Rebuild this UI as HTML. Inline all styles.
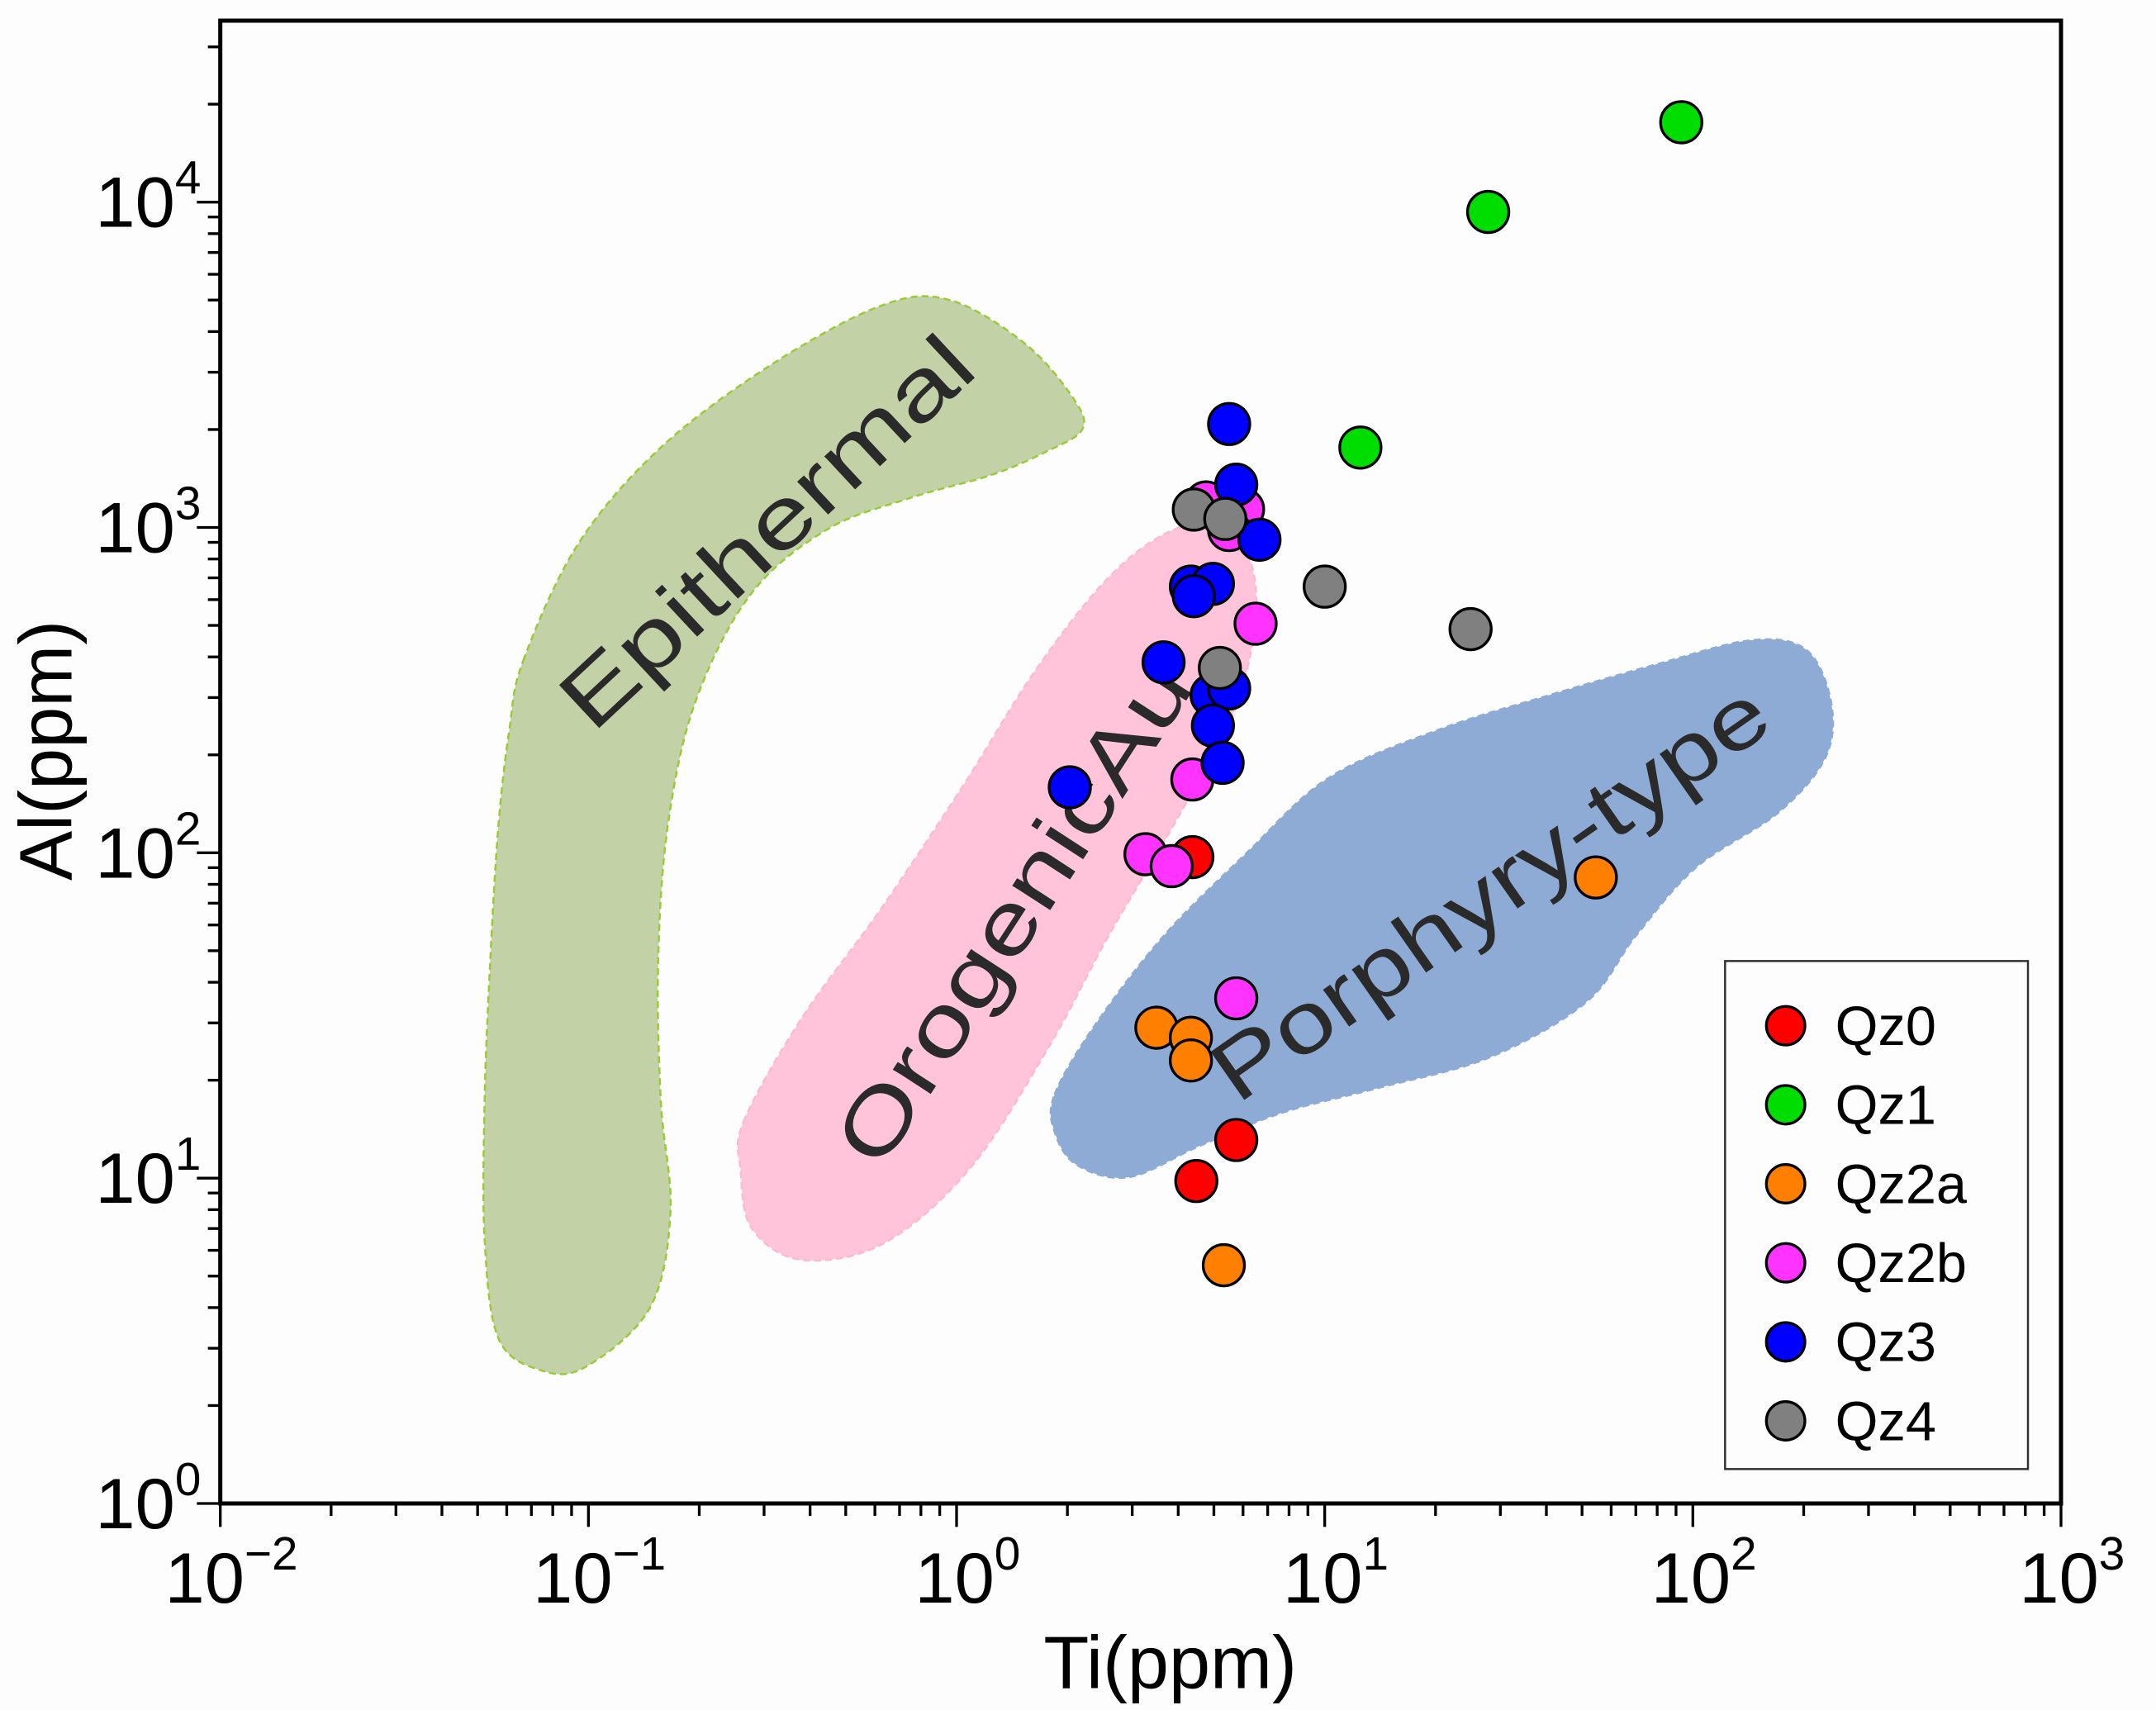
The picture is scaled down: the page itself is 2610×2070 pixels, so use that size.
<!DOCTYPE html>
<html><head><meta charset="utf-8"><style>
html,body{margin:0;padding:0;background:#fdfdfd;}
svg{display:block;font-family:"Liberation Sans",Arial,sans-serif;}
</style></head><body>
<svg id="chart" width="2610" height="2070" viewBox="0 0 1566 1242" xmlns="http://www.w3.org/2000/svg">
<rect x="0" y="0" width="1566" height="1242" fill="#fdfdfd"/>
<g id="regions"></g>
<g id="axes"></g>
<g id="points"></g>
<g id="legend"></g>
</svg>
<script>
const xTickExps = [-2, -1, 0, 1, 2, 3];
const yTickExps = [0, 1, 2, 3, 4];
const seriesNames = ["Qz0", "Qz1", "Qz2a", "Qz2b", "Qz3", "Qz4"];
const seriesColors = ["#ff0000", "#00dd00", "#ff8000", "#ff33ff", "#0000ff", "#808080"];
const qz0Ti = [4.37, 5.75, 4.48];
const qz0Al = [97, 13.1, 9.8];
const qz1Ti = [93, 27.8, 12.5];
const qz1Al = [17600, 9330, 1760];
const qz2aTi = [54.5, 3.49, 4.33, 4.33, 5.32];
const qz2aAl = [84, 29, 27, 23, 5.4];
const qz2bTi = [4.76, 6.0, 5.5, 3.26, 3.84, 4.37, 6.49, 5.75];
const qz2bAl = [1194, 1137, 982, 99, 91, 168, 506, 35.7];
const qz3Ti = [5.5, 5.75, 6.65, 4.33, 4.97, 4.41, 3.65, 4.93, 5.5, 4.97, 5.28, 2.03];
const qz3Al = [2080, 1354, 917, 658, 671, 615, 385, 305, 320, 246, 189, 159];
const qz4Ti = [4.41, 5.37, 10.0, 24.9, 5.19];
const qz4Al = [1135, 1062, 658, 487, 370];
const seriesTi = [qz0Ti, qz1Ti, qz2aTi, qz2bTi, qz3Ti, qz4Ti];
const seriesAl = [qz0Al, qz1Al, qz2aAl, qz2bAl, qz3Al, qz4Al];

const NS = "http://www.w3.org/2000/svg";
const X0 = 160, XDEC = 267.4, Y0 = 1092, YDEC = 236.3, YTOP = 15, XR = 1497;
function xs(v){ return X0 + (Math.log10(v) + 2) * XDEC; }
function ys(v){ return Y0 - Math.log10(v) * YDEC; }
function mk(tag, attrs, parent){ const e = document.createElementNS(NS, tag); for (const k in attrs) e.setAttribute(k, attrs[k]); parent.appendChild(e); return e; }

const reg = document.getElementById('regions');
function smooth(pts){
  let d = "M" + pts[0].join(",");
  const n = pts.length;
  for (let i = 0; i < n; i++){
    const p0 = pts[(i-1+n)%n], p1 = pts[i], p2 = pts[(i+1)%n], p3 = pts[(i+2)%n];
    const c1 = [p1[0]+(p2[0]-p0[0])/6, p1[1]+(p2[1]-p0[1])/6];
    const c2 = [p2[0]-(p3[0]-p1[0])/6, p2[1]-(p3[1]-p1[1])/6];
    d += " C" + c1.join(",") + " " + c2.join(",") + " " + p2.join(",");
  }
  return d + "Z";
}
const epi = [[380,480],[420,395],[480,325],[560,265],[640,222],[690,218],[745,250],[780,290],[786,312],[760,328],[720,345],[660,362],[600,385],[545,432],[505,510],[485,600],[478,700],[480,800],[487,880],[472,950],[425,993],[392,995],[362,972],[352,900],[352,800],[356,700],[362,600],[370,530]];
const oro = [[540,815],[582,740],[640,660],[700,570],[750,490],[800,425],[842,390],[880,380],[906,402],[912,450],[895,520],[852,600],[805,680],[762,760],[705,848],[642,903],[582,915],[546,892],[538,850]];
const por = [[766,795],[795,745],[845,680],[905,620],[965,565],[1045,530],[1125,505],[1205,482],[1272,465],[1312,472],[1330,510],[1326,550],[1292,590],[1232,630],[1188,680],[1152,728],[1082,768],[1002,790],[932,808],[872,832],[820,855],[782,846],[766,822]];
let e;
e = mk('path', {d: smooth(epi), fill:'#c2d1a6', stroke:'#99cc33', 'stroke-width':1.5, 'stroke-dasharray':'5,3'}, reg);


e = mk('path', {d: smooth(oro), fill:'#ffc4da', stroke:'#ffb8d2', 'stroke-width':1.5, 'stroke-dasharray':'5,3'}, reg);


e = mk('path', {d: smooth(por), fill:'#8eabd6', stroke:'#8eabd6', 'stroke-width':1.5, 'stroke-dasharray':'5,3'}, reg);


function label(txt, x, y, rot, len, name){
  const t = mk('text', {x:x, y:y, 'font-size':62, fill:'#2a2a2a', 'text-anchor':'middle', 'dominant-baseline':'middle', textLength:len, lengthAdjust:'spacingAndGlyphs', transform:`rotate(${rot} ${x} ${y})`}, reg);
  t.textContent = txt;
  
  
}
label('Epithermal', 560, 390, -43, 385, 'epithermal-label');
label('OrogenicAu', 740, 666, -57, 420, 'orogenic-au-label');
label('Porphyry-type', 1085, 652, -35, 478, 'porphyry-type-label');

const ax = document.getElementById('axes');
e = mk('rect', {x:X0, y:YTOP, width:XR-X0, height:Y0-YTOP, fill:'none', stroke:'#000', 'stroke-width':3}, ax);


for (let d = -2; d <= 3; d++){
  for (let m = 1; m <= 9; m++){
    const v = m * Math.pow(10, d);
    if (Math.log10(v) > 3.0001) break;
    const x = xs(v), len = m === 1 ? 17 : 9;
    const t = mk('line', {x1:x, y1:Y0, x2:x, y2:Y0+len, stroke:'#000', 'stroke-width':2}, ax);
    
    
  }
}
const yMaxLog = (Y0 - YTOP) / YDEC;
for (let d = 0; d <= 4; d++){
  for (let m = 1; m <= 9; m++){
    const v = m * Math.pow(10, d);
    if (Math.log10(v) > yMaxLog) break;
    const y = ys(v), len = m === 1 ? 17 : 9;
    const t = mk('line', {x1:X0, y1:y, x2:X0-len, y2:y, stroke:'#000', 'stroke-width':2}, ax);
    
    
  }
}
function powLabel(x, y, exp, anchor){
  const t = mk('text', {x:x, y:y, 'font-size':52, fill:'#000', 'text-anchor':anchor}, ax);
  const s1 = document.createElementNS(NS, 'tspan'); s1.textContent = '10'; t.appendChild(s1);
  const s2 = document.createElementNS(NS, 'tspan'); s2.setAttribute('dy', -24); s2.setAttribute('font-size', 34);
  s2.textContent = exp < 0 ? '\u2212' + (-exp) : String(exp); t.appendChild(s2);
  return t;
}
xTickExps.forEach(p => {
  const t = powLabel(xs(Math.pow(10, p)) + 8, 1164, p, 'middle');
  
  
});
yTickExps.forEach(p => {
  const t = powLabel(146, ys(Math.pow(10, p)) + 18, p, 'end');
  
  
});
e = mk('text', {x:850, y:1226, 'font-size':54, 'text-anchor':'middle', fill:'#000'}, ax);
e.textContent = 'Ti(ppm)';


e = mk('text', {x:52, y:545, 'font-size':54, 'text-anchor':'middle', fill:'#000', transform:'rotate(-90 52 545)'}, ax);
e.textContent = 'Al(ppm)';



const pts = document.getElementById('points');
seriesNames.forEach((nm, si) => {
  seriesTi[si].forEach((tv, i) => {
    const c = mk('circle', {cx:xs(tv), cy:ys(seriesAl[si][i]), r:15, fill:seriesColors[si], stroke:'#000', 'stroke-width':2}, pts);
    
    
  });
});

const lg = document.getElementById('legend');
e = mk('rect', {x:1253, y:698, width:220, height:369, fill:'#fdfdfd', stroke:'#333', 'stroke-width':1.5}, lg);


seriesNames.forEach((nm, i) => {
  const y = 745 + i * 57.4;
  const c = mk('circle', {cx:1297, cy:y, r:14, fill:seriesColors[i], stroke:'#000', 'stroke-width':2}, lg);
  
  
  const t = mk('text', {x:1333, y:y+14, 'font-size':40, fill:'#000'}, lg);
  t.textContent = nm;
  
  
});
</script>
</body></html>
